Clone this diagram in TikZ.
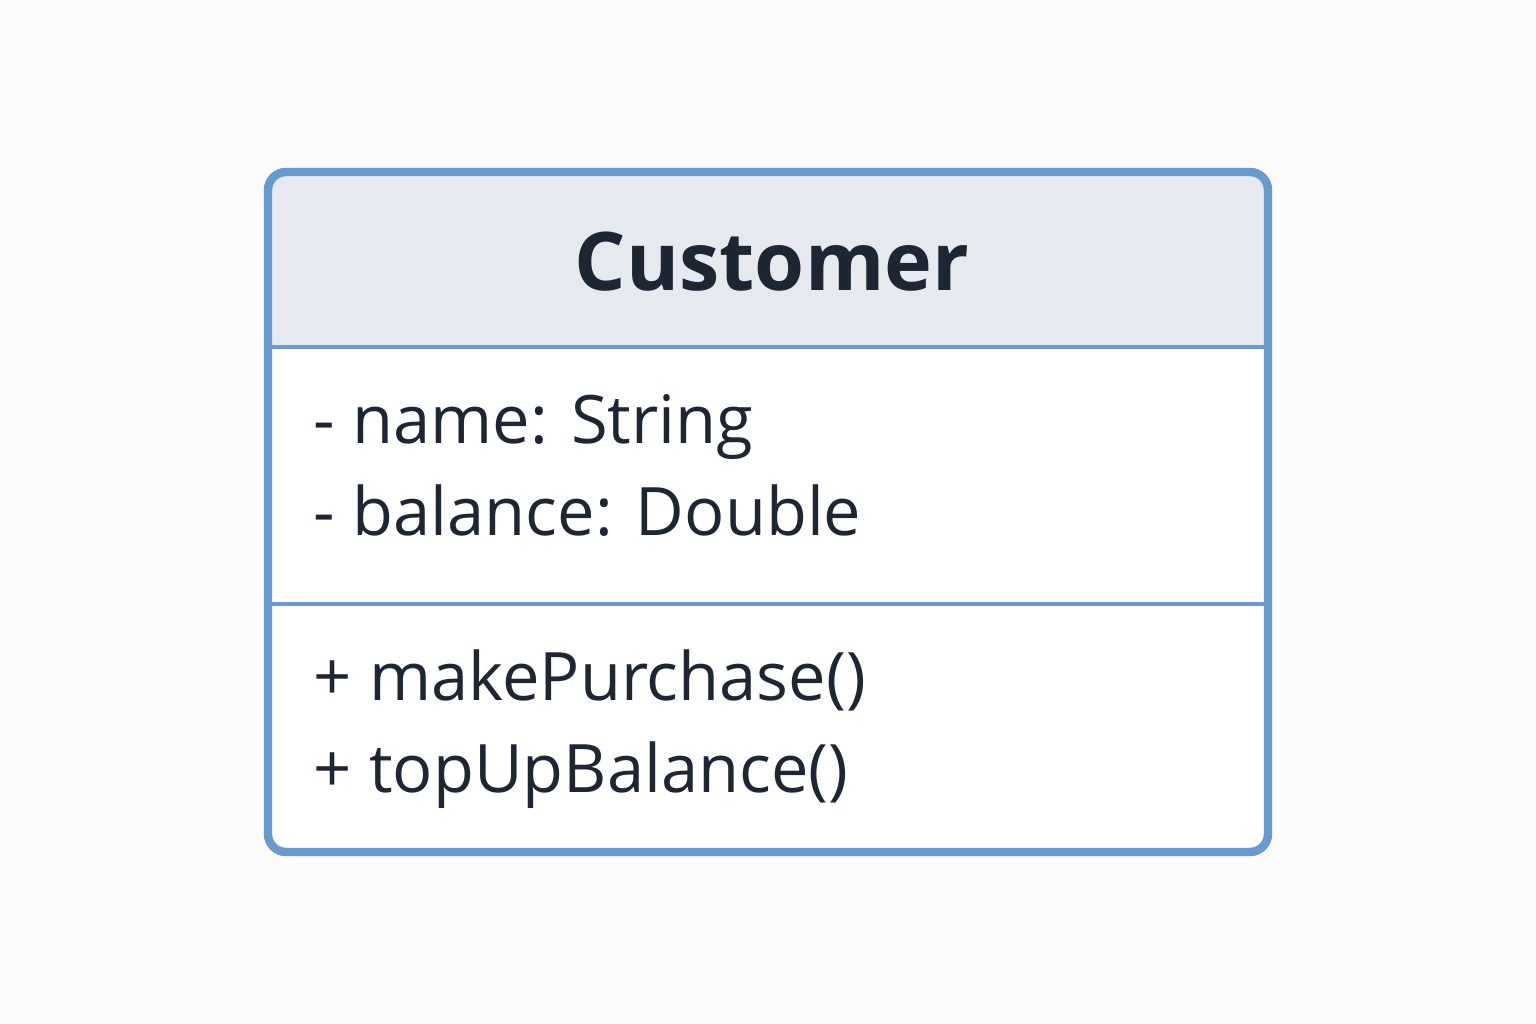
\documentclass[tikz,border=0pt]{standalone}
\usepackage{fontspec}
\setmainfont{Open Sans}
\definecolor{bd}{HTML}{6A9BD0}
\definecolor{hd}{HTML}{E6E9EF}
\definecolor{tx}{HTML}{1F2633}
\definecolor{bg}{HTML}{FBFBFB}
\begin{document}
\begin{tikzpicture}[x=0.01cm,y=-0.01cm,
  item/.style={anchor=base west,text=tx,font=\fontsize{19}{23}\selectfont,inner sep=0}]
\useasboundingbox[fill=bg] (0,0) rectangle (1536,1024);
\begin{scope}
\clip[rounded corners=0.18cm] (268,172) rectangle (1268,852);
\fill[white] (268,172) rectangle (1268,852);
\fill[hd] (268,172) rectangle (1268,347);
\end{scope}
\draw[bd,line width=2.4pt,rounded corners=0.18cm] (268,172) rectangle (1268,852);
\draw[bd,line width=1.4pt] (271,347) -- (1265,347);
\draw[bd,line width=1.4pt] (271,604) -- (1265,604);
\node[text=tx,font=\fontsize{23}{27}\selectfont\bfseries,anchor=base,inner sep=0] (t) at (772,290) {Customer};
\node[item] (a1) at (313,443) {- name: String};
\node[item] (a2) at (313,535) {- balance: Double};
\node[item] (m1) at (313,700) {+ makePurchase()};
\node[item] (m2) at (313,792) {+ topUpBalance()};
\end{tikzpicture}
\end{document}
